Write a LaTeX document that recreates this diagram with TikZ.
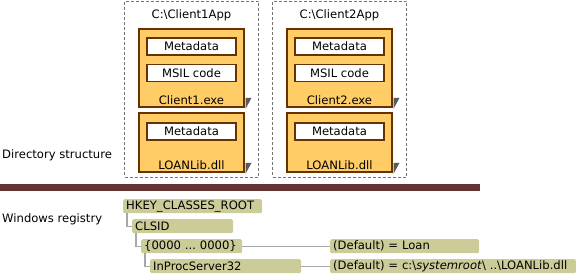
\documentclass[tikz,border=0pt]{standalone}
\usepackage{fontspec}
\setmainfont{DejaVu Sans}
\usetikzlibrary{positioning}
\definecolor{modulefill}{HTML}{FFCC66}
\definecolor{moduleedge}{HTML}{663300}
\definecolor{keyfill}{HTML}{CCCC99}
\definecolor{barcolor}{HTML}{663333}
\definecolor{branchgray}{HTML}{A8A8A8}
\frenchspacing

\begin{document}
\begin{tikzpicture}[x=1pt, y=-1pt,
  every node/.style={font=\fontsize{11.6}{13}\selectfont},
  folder/.style={draw=black!55, line width=1pt, dash pattern=on 3pt off 2pt, minimum width=134pt, minimum height=176pt},
  module/.style={draw=moduleedge, fill=modulefill, line width=1.5pt, minimum width=105pt},
  part/.style={draw=moduleedge, fill=white, line width=1.5pt, minimum width=89pt, minimum height=17pt, inner sep=0pt},
  modlabel/.style={inner sep=1pt},
  regkey/.style={fill=keyfill, rounded corners=1.5pt, anchor=north west, align=left, inner xsep=3pt, inner ysep=0pt, minimum height=14pt},
  branch/.style={draw=branchgray, line width=1.3pt},
  shade/.style={fill=black!65}
]
\useasboundingbox (0,0) rectangle (576,274);

% directory structure
\node[folder] (app1) at (191.5,89) {};
\node[folder] (app2) at (339.5,89) {};
\node at (191.5,15) (app1name) {C:\textbackslash Client1App};
\node at (339.5,15) (app2name) {C:\textbackslash Client2App};

\node[module, minimum height=78pt] (exe1) at (191.5,68) {};
\node[module, minimum height=59pt] (dll1) at (191.5,142.5) {};
\node[module, minimum height=78pt] (exe2) at (339.5,68) {};
\node[module, minimum height=59pt] (dll2) at (339.5,142.5) {};
\fill[shade] ([xshift=0.8pt, yshift=10pt]exe1.south east) -- ++(6pt,0) -- ([xshift=0.8pt, yshift=-1pt]exe1.south east) -- cycle;
\fill[shade] ([xshift=0.8pt, yshift=10pt]dll1.south east) -- ++(6pt,0) -- ([xshift=0.8pt, yshift=-1pt]dll1.south east) -- cycle;
\fill[shade] ([xshift=0.8pt, yshift=10pt]exe2.south east) -- ++(6pt,0) -- ([xshift=0.8pt, yshift=-1pt]exe2.south east) -- cycle;
\fill[shade] ([xshift=0.8pt, yshift=10pt]dll2.south east) -- ++(6pt,0) -- ([xshift=0.8pt, yshift=-1pt]dll2.south east) -- cycle;

\node[part, below=9pt of exe1.north] (meta1) {Metadata};
\node[part, below=8pt of meta1] (msil1) {MSIL code};
\node[modlabel, above=2pt of exe1.south] (exe1name) {Client1.exe};
\node[part, below=10pt of dll1.north] (dllmeta1) {Metadata};
\node[modlabel, above=2pt of dll1.south] (dll1name) {LOANLib.dll};

\node[part, below=9pt of exe2.north] (meta2) {Metadata};
\node[part, below=8pt of meta2] (msil2) {MSIL code};
\node[modlabel, above=2pt of exe2.south] (exe2name) {Client2.exe};
\node[part, below=10pt of dll2.north] (dllmeta2) {Metadata};
\node[modlabel, above=2pt of dll2.south] (dll2name) {LOANLib.dll};

\node[anchor=west, inner sep=0pt] (dirlabel) at (2,155) {Directory structure};
\fill[barcolor] (0,184) rectangle (480,191);

% windows registry
\node[anchor=west, inner sep=0pt] (reglabel) at (2,219) {Windows registry};
\node[regkey, text width=133pt] (hkey) at (123,199) {HKEY\_CLASSES\_ROOT};
\node[regkey, text width=95pt] (clsid) at (132,219) {CLSID};
\node[regkey, text width=95pt] (guid) at (141,239) {\{0000 ... 0000\}};
\node[regkey, text width=145pt] (inproc) at (150,259) {InProcServer32};
\node[regkey, text width=143pt] (default1) at (330,239) {(Default) = Loan};
\node[regkey, text width=240pt] (default2) at (330,259) {(Default) = c:\textbackslash\textit{systemroot}\textbackslash{} ..\textbackslash LOANLib.dll};

\draw[branch] ([xshift=4pt]hkey.south west) |- (clsid.west);
\draw[branch] ([xshift=4pt]clsid.south west) |- (guid.west);
\draw[branch] ([xshift=4pt]guid.south west) |- (inproc.west);
\draw[branch] (guid.east) -- (default1.west);
\draw[branch] (inproc.east) -- (default2.west);
\end{tikzpicture}
\end{document}
